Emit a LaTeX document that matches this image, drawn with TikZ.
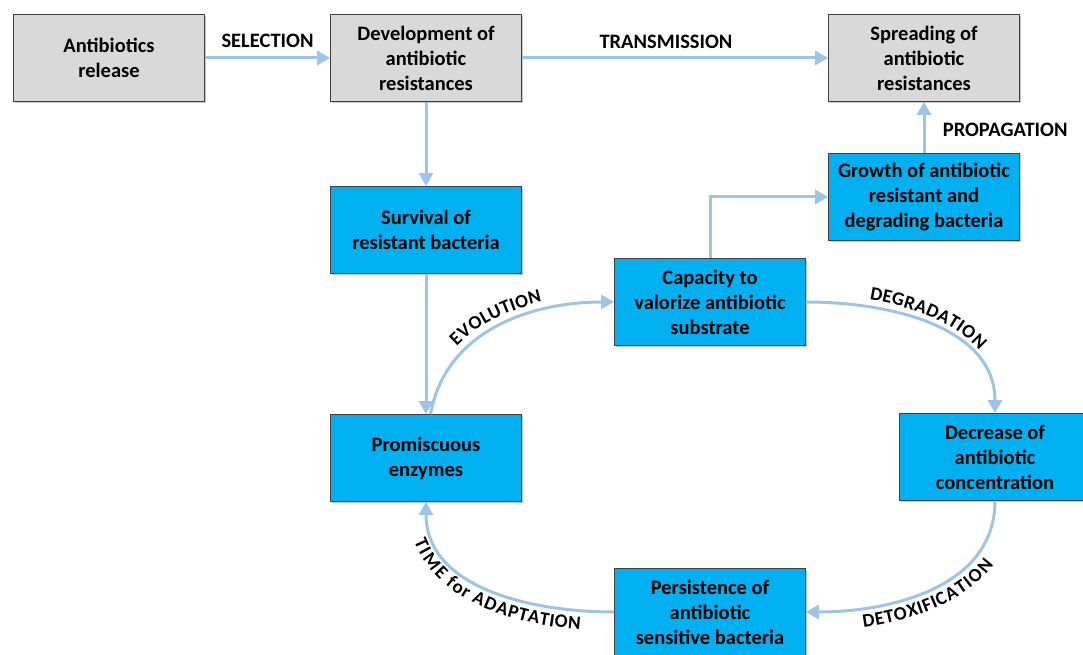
\documentclass[tikz,border=0pt]{standalone}
\usepackage{fontspec}
\setmainfont{Carlito}
\usepackage{tikz}
\usetikzlibrary{arrows.meta, shadows, decorations.text}
\definecolor{boxGray}{RGB}{217,217,217}
\definecolor{boxBlue}{RGB}{0,176,240}
\definecolor{arrowBlue}{RGB}{157,195,230}
\definecolor{borderColor}{RGB}{64,64,64}
\newcommand{\boxFont}{\fontsize{20.5}{25}\selectfont\bfseries}
\newcommand{\curveFont}{\fontsize{19}{23}\selectfont\bfseries}
\tikzstyle{boxStyle} = [draw=borderColor, line width=.8pt, minimum width=191pt, minimum height=87pt, align=center, font=\boxFont, drop shadow={shadow xshift=1.5pt, shadow yshift=-1.5pt, opacity=.45}]
\tikzstyle{grayBox} = [boxStyle, fill=boxGray]
\tikzstyle{blueBox} = [boxStyle, fill=boxBlue]
\tikzstyle{flowArrow} = [color=arrowBlue, line width=3pt, -{Triangle[length=13pt, width=14pt]}]
\tikzstyle{flowLabel} = [font=\boxFont, text=black]
\newcommand{\curveText}[6]{\path [decorate, decoration={text along path, text={|\curveFont|#6}, text align=center, raise=#5}] (#1) to [out=#3, in=#4] (#2);}

\begin{document}
\begin{tikzpicture}[x=1pt, y=1pt]
  \useasboundingbox (0,0) rectangle (1083,654);
  % top row
  \node [grayBox] (release) at (109,596) {Antibiotics\\release};
  \node [grayBox] (development) at (426,596) {Development of\\antibiotic\\resistances};
  \node [grayBox] (spreading) at (924,596) {Spreading of\\antibiotic\\resistances};
  % cycle
  \node [blueBox] (survival) at (426,424) {Survival of\\resistant bacteria};
  \node [blueBox] (growth) at (924,457) {Growth of antibiotic\\resistant and\\degrading bacteria};
  \node [blueBox] (capacity) at (710,352) {Capacity to\\valorize antibiotic\\substrate};
  \node [blueBox] (promiscuous) at (426,196) {Promiscuous\\enzymes};
  \node [blueBox] (decrease) at (995,197) {Decrease of\\antibiotic\\concentration};
  \node [blueBox] (persistence) at (710,42) {Persistence of\\antibiotic\\sensitive bacteria};

  \draw [flowArrow] (release) -- node [flowLabel, midway, above=6pt] {SELECTION} (development);
  \draw [flowArrow] (development) -- node [flowLabel, midway, above=5pt, xshift=-9pt] {TRANSMISSION} (spreading);
  \draw [flowArrow] (growth) -- node [flowLabel, midway, right=14pt, yshift=-2pt] {PROPAGATION} (spreading);
  \draw [flowArrow] (development) -- (survival);
  \draw [flowArrow] (survival) -- (promiscuous);
  \draw [flowArrow] (capacity) |- (growth);

  \draw [flowArrow] (promiscuous.84) to [out=80, in=180] (capacity.west);
  \draw [flowArrow] (capacity.east) to [out=0, in=90] (decrease.north);
  \draw [flowArrow] (decrease.south) to [out=-90, in=0] (persistence.east);
  \draw [flowArrow] (persistence.west) to [out=180, in=-90] (promiscuous.south);

  \curveText{promiscuous.84}{capacity.west}{80}{180}{8pt}{EVOLUTION}
  \curveText{capacity.east}{decrease.north}{0}{90}{7pt}{DEGRADATION}
  \curveText{persistence.east}{decrease.south}{0}{-90}{-19pt}{DETOXIFICATION}
  \curveText{promiscuous.south}{persistence.west}{-90}{180}{-19pt}{TIME for ADAPTATION}
\end{tikzpicture}
\end{document}
